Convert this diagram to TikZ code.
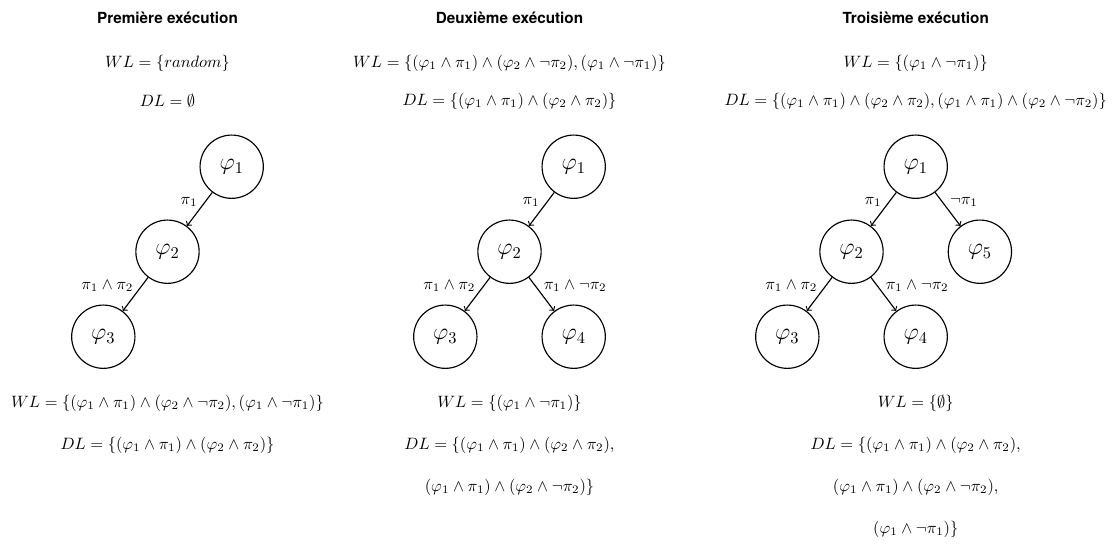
\documentclass[tikz,border=0pt]{standalone}
\usepackage{fontspec}
\newfontfamily\titlefont{TeX Gyre Heros}
\begin{document}
\begin{tikzpicture}[x=0.6083pt,y=-0.6083pt,
  state/.style={circle,draw,line width=0.7pt,minimum size=38.5pt,inner sep=0pt,font=\Large},
  arr/.style={->,line width=0.7pt},
  lab/.style={inner sep=1pt},
  ttl/.style={inner sep=0pt,font=\titlefont\bfseries\fontsize{9.3}{11}\selectfont},
  txt/.style={inner sep=0pt}]
\useasboundingbox (0,0) rectangle (1112,543);
% ---------- column 1
\node[ttl] (t1) at (167.5,18) {Première exécution};
\node[txt] (wl1) at (167.5,63) {$WL=\{random\}$};
\node[txt] (dl1) at (167.5,101) {$DL=\emptyset$};
\node[state] (a1) at (231.7,166.7) {$\varphi_1$};
\node[state] (a2) at (167.5,251.7) {$\varphi_2$};
\node[state] (a3) at (103.3,336.7) {$\varphi_3$};
\draw[arr] (a1) -- node[lab,above left]{$\pi_1$} (a2);
\draw[arr] (a2) -- node[lab,above left]{$\pi_1\wedge\pi_2$} (a3);
\node[txt] (wl1b) at (167.5,403) {$WL=\{(\varphi_1\wedge\pi_1)\wedge(\varphi_2\wedge\neg\pi_2),(\varphi_1\wedge\neg\pi_1)\}$};
\node[txt] (dl1b) at (167.5,445) {$DL=\{(\varphi_1\wedge\pi_1)\wedge(\varphi_2\wedge\pi_2)\}$};
% ---------- column 2
\node[ttl] (t2) at (509.5,18) {Deuxième exécution};
\node[txt] (wl2) at (509.5,63) {$WL=\{(\varphi_1\wedge\pi_1)\wedge(\varphi_2\wedge\neg\pi_2),(\varphi_1\wedge\neg\pi_1)\}$};
\node[txt] (dl2) at (509.5,101) {$DL=\{(\varphi_1\wedge\pi_1)\wedge(\varphi_2\wedge\pi_2)\}$};
\node[state] (b1) at (573.7,166.7) {$\varphi_1$};
\node[state] (b2) at (509.5,251.7) {$\varphi_2$};
\node[state] (b3) at (445.3,336.7) {$\varphi_3$};
\node[state] (b4) at (573.7,336.7) {$\varphi_4$};
\draw[arr] (b1) -- node[lab,above left]{$\pi_1$} (b2);
\draw[arr] (b2) -- node[lab,above left]{$\pi_1\wedge\pi_2$} (b3);
\draw[arr] (b2) -- node[lab,above right]{$\pi_1\wedge\neg\pi_2$} (b4);
\node[txt] (wl2b) at (509.5,403) {$WL=\{(\varphi_1\wedge\neg\pi_1)\}$};
\node[txt] (dl2b) at (509.5,445) {$DL=\{(\varphi_1\wedge\pi_1)\wedge(\varphi_2\wedge\pi_2),$};
\node[txt] (dl2c) at (509.5,487) {$(\varphi_1\wedge\pi_1)\wedge(\varphi_2\wedge\neg\pi_2)\}$};
% ---------- column 3
\node[ttl] (t3) at (915.7,18) {Troisième exécution};
\node[txt] (wl3) at (915.7,63) {$WL=\{(\varphi_1\wedge\neg\pi_1)\}$};
\node[txt] (dl3) at (915.7,101) {$DL=\{(\varphi_1\wedge\pi_1)\wedge(\varphi_2\wedge\pi_2),(\varphi_1\wedge\pi_1)\wedge(\varphi_2\wedge\neg\pi_2)\}$};
\node[state] (c1) at (915.7,166.7) {$\varphi_1$};
\node[state] (c2) at (851.5,251.7) {$\varphi_2$};
\node[state] (c5) at (979.9,251.7) {$\varphi_5$};
\node[state] (c3) at (787.3,336.7) {$\varphi_3$};
\node[state] (c4) at (915.7,336.7) {$\varphi_4$};
\draw[arr] (c1) -- node[lab,above left]{$\pi_1$} (c2);
\draw[arr] (c1) -- node[lab,above right]{$\neg\pi_1$} (c5);
\draw[arr] (c2) -- node[lab,above left]{$\pi_1\wedge\pi_2$} (c3);
\draw[arr] (c2) -- node[lab,above right]{$\pi_1\wedge\neg\pi_2$} (c4);
\node[txt] (wl3b) at (915.7,403) {$WL=\{\emptyset\}$};
\node[txt] (dl3b) at (915.7,445) {$DL=\{(\varphi_1\wedge\pi_1)\wedge(\varphi_2\wedge\pi_2),$};
\node[txt] (dl3c) at (915.7,487) {$(\varphi_1\wedge\pi_1)\wedge(\varphi_2\wedge\neg\pi_2),$};
\node[txt] (dl3d) at (915.7,529) {$(\varphi_1\wedge\neg\pi_1)\}$};
\end{tikzpicture}
\end{document}
